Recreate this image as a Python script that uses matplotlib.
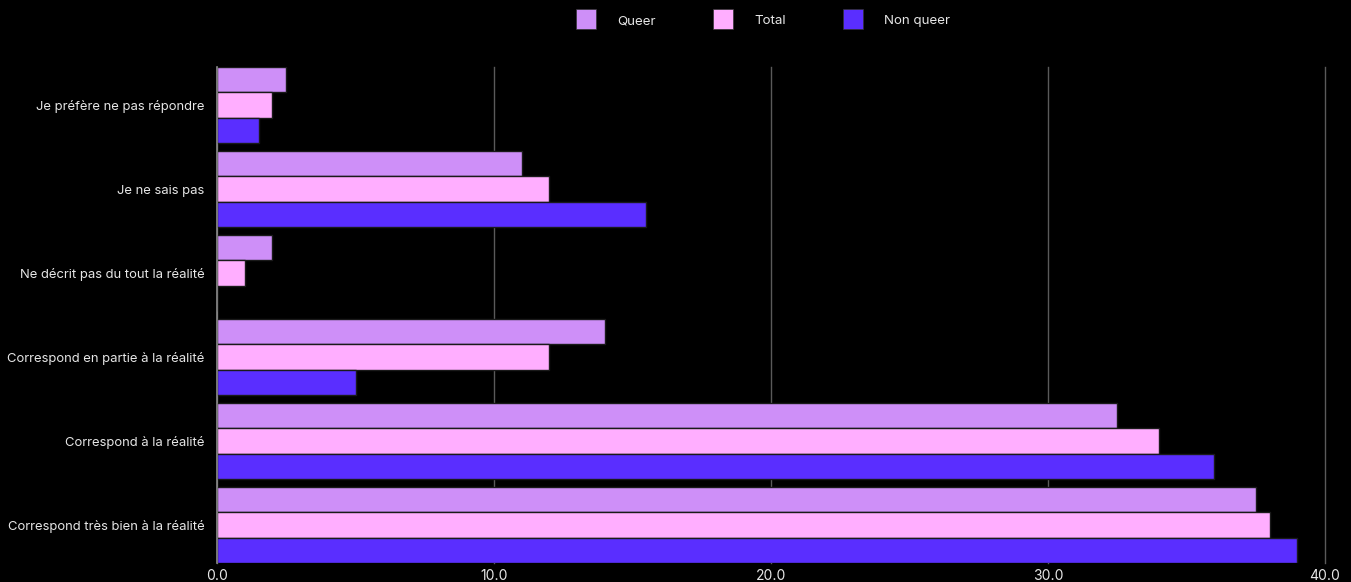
import matplotlib
matplotlib.use("Agg")
import matplotlib.pyplot as plt
from matplotlib.lines import Line2D
import numpy as np

plt.rcParams['font.family'] = ['Inter', 'DejaVu Sans']

categories = [
    "Je préfère ne pas répondre",
    "Je ne sais pas",
    "Ne décrit pas du tout la réalité",
    "Correspond en partie à la réalité",
    "Correspond à la réalité",
    "Correspond très bien à la réalité",
]
series_names = ["Queer", "Total", "Non queer"]
queer = [2.5, 11.0, 2.0, 14.0, 32.5, 37.5]
total = [2.0, 12.0, 1.0, 12.0, 34.0, 38.0]
non_queer = [1.5, 15.5, 0.0, 5.0, 36.0, 39.0]
x_ticks = [0, 10, 20, 30, 40]
x_tick_labels = ["0.0", "10.0", "20.0", "30.0", "40.0"]

colors = ["#CE8FF8", "#FFAEFF", "#5A2EFF"]
values = [queer, total, non_queer]

W, H = 1351, 582
fig = plt.figure(figsize=(W / 100, H / 100), dpi=100, facecolor="black")
ax = fig.add_axes([217 / W, 1 - 563 / H, (1325 - 217) / W, (563 - 67) / H])
ax.set_facecolor("black")

n = len(categories)
group = np.arange(n)
bar_h = 0.302
offsets = [-bar_h, 0, bar_h]
for vals, col, off, name in zip(values, colors, offsets, series_names):
    ax.barh(group + off, vals, height=bar_h, color=col, edgecolor="#1a1a1a",
            linewidth=1.0, label=name, zorder=3)

ax.set_ylim(n - 1 + 0.453, -0.453)
ax.set_xlim(0, 40)
ax.set_yticks(group)
ax.set_yticklabels(categories, color="#e6e6e6", fontsize=9.4)
ax.set_xticks(x_ticks)
ax.set_xticklabels(x_tick_labels, color="#e6e6e6", fontsize=10)
ax.tick_params(axis="y", length=0, pad=9)
ax.tick_params(axis="x", length=0, pad=4)

ax.grid(axis="x", color="#5a5a5a", linewidth=1.0, zorder=0)
ax.grid(axis="y", visible=False)
for gl in ax.xaxis.get_gridlines():
    gl.set_clip_on(False)
for side in ["top", "right", "bottom"]:
    ax.spines[side].set_visible(False)
ax.spines["left"].set_color("#8a8a8a")
ax.spines["left"].set_linewidth(1.2)
ax.spines["left"].set_zorder(4)

handles = [Line2D([0], [0], marker="s", linestyle="none", markersize=14.5,
                  markerfacecolor=c, markeredgecolor="#333333", markeredgewidth=0.5)
           for c in colors]
leg = fig.legend(handles, series_names, loc="center", bbox_to_anchor=(763 / W, 1 - 21 / H),
                 ncol=3, frameon=False, fontsize=9.6, handlelength=1.5,
                 handletextpad=1.6, columnspacing=4.3, labelcolor="#e6e6e6")

fig.savefig("out.png", dpi=100, facecolor="black")
